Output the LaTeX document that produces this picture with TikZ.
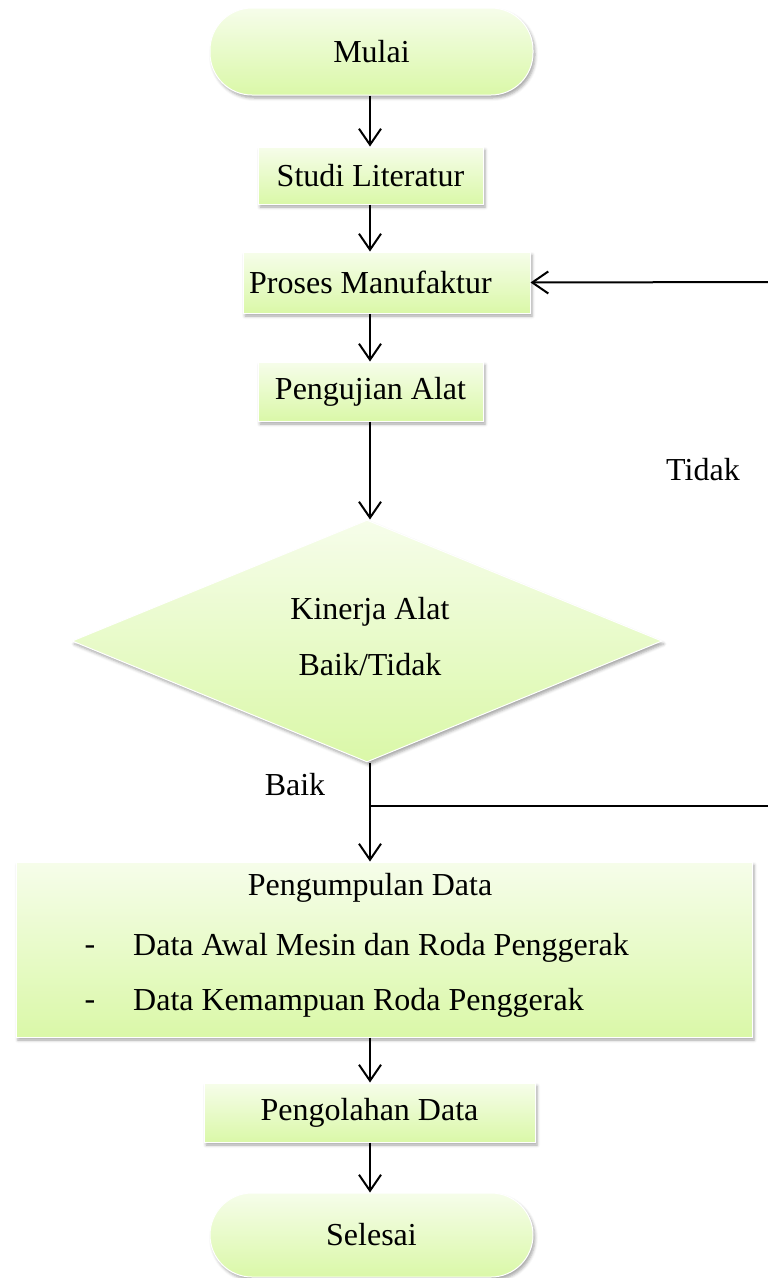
\documentclass[tikz,border=0pt]{standalone}
\usepackage{fontspec}
\setmainfont{Liberation Serif}
\usetikzlibrary{shapes.geometric,arrows.meta,shadows.blur}
\definecolor{gtop}{RGB}{246,253,234}
\definecolor{gbot}{RGB}{218,248,168}
\tikzset{
  fillg/.style={top color=gtop, bottom color=gbot, draw=white, line width=1pt,
    blur shadow={shadow xshift=2pt, shadow yshift=-3pt, shadow blur radius=3pt, shadow opacity=35}},
  procbox/.style={fillg, rectangle, inner sep=0pt},
  term/.style={fillg, rectangle, rounded corners=42pt, inner sep=0pt},
  decis/.style={fillg, diamond, inner sep=0pt},
  txt/.style={inner sep=0pt},
  arr/.style={line width=2pt, -{Straight Barb[length=16pt,width=22pt,line width=2pt]}},
  ln/.style={line width=2pt}
}
\begin{document}
\begin{tikzpicture}[x=1pt,y=-1pt,font=\fontsize{32pt}{38pt}\selectfont]
\useasboundingbox (0,0) rectangle (768,1278);

\node[term, minimum width=323pt, minimum height=87pt] (start) at (371.5,51.5) {Mulai};
\node[procbox, minimum width=225pt, minimum height=57pt] (studi) at (370.5,175.5) {Studi Literatur};
\node[procbox, minimum width=287pt, minimum height=61pt] (proses) at (386.5,282.5) {\hspace{-32pt}Proses Manufaktur};
\node[procbox, minimum width=225pt, minimum height=59pt] (uji) at (370.5,391.5) {Pengujian Alat};
\node[decis, minimum width=590pt, minimum height=242pt] (dec) at (367,641) {};
\node[txt] (dect1) at (370,612) {Kinerja Alat};
\node[txt] (dect2) at (370,665) {Baik/Tidak};
\node[procbox, minimum width=736pt, minimum height=175pt] (kumpul) at (384,949.5) {};
\node[txt] (kt) at (370,888) {Pengumpulan Data};
\node[txt] (kd1) at (90,950) {-};
\node[txt, anchor=west] (k1) at (133,948) {Data Awal Mesin dan Roda Penggerak};
\node[txt] (kd2) at (90,1005) {-};
\node[txt, anchor=west] (k2) at (133,1003) {Data Kemampuan Roda Penggerak};
\node[procbox, minimum width=331pt, minimum height=59pt] (olah) at (369.5,1112.5) {Pengolahan Data};
\node[term, minimum width=323pt, minimum height=84pt] (end) at (371.5,1235) {Selesai};

\node[txt] (baik) at (295,785) {Baik};
\node[txt] (tidak) at (703,470) {Tidak};

\coordinate (j) at (370,806);
\coordinate (r1) at (768,806);
\coordinate (r2) at (768,282);

\draw[arr] (start.south -| 370,0) -- (studi.north -| 370,0);
\draw[arr] (studi.south -| 370,0) -- (proses.north -| 370,0);
\draw[arr] (proses.south -| 370,0) -- (uji.north -| 370,0);
\draw[arr] (uji.south -| 370,0) -- (dec.north -| 370,0);
\draw[arr] (dec.south -| 370,0) -- (kumpul.north -| 370,0);
\draw[ln] (j) -- (r1);
\draw[arr] (r2) -- (proses.east);
\draw[arr] (kumpul.south -| 370,0) -- (olah.north -| 370,0);
\draw[arr] (olah.south -| 370,0) -- (end.north -| 370,0);
\end{tikzpicture}
\end{document}
